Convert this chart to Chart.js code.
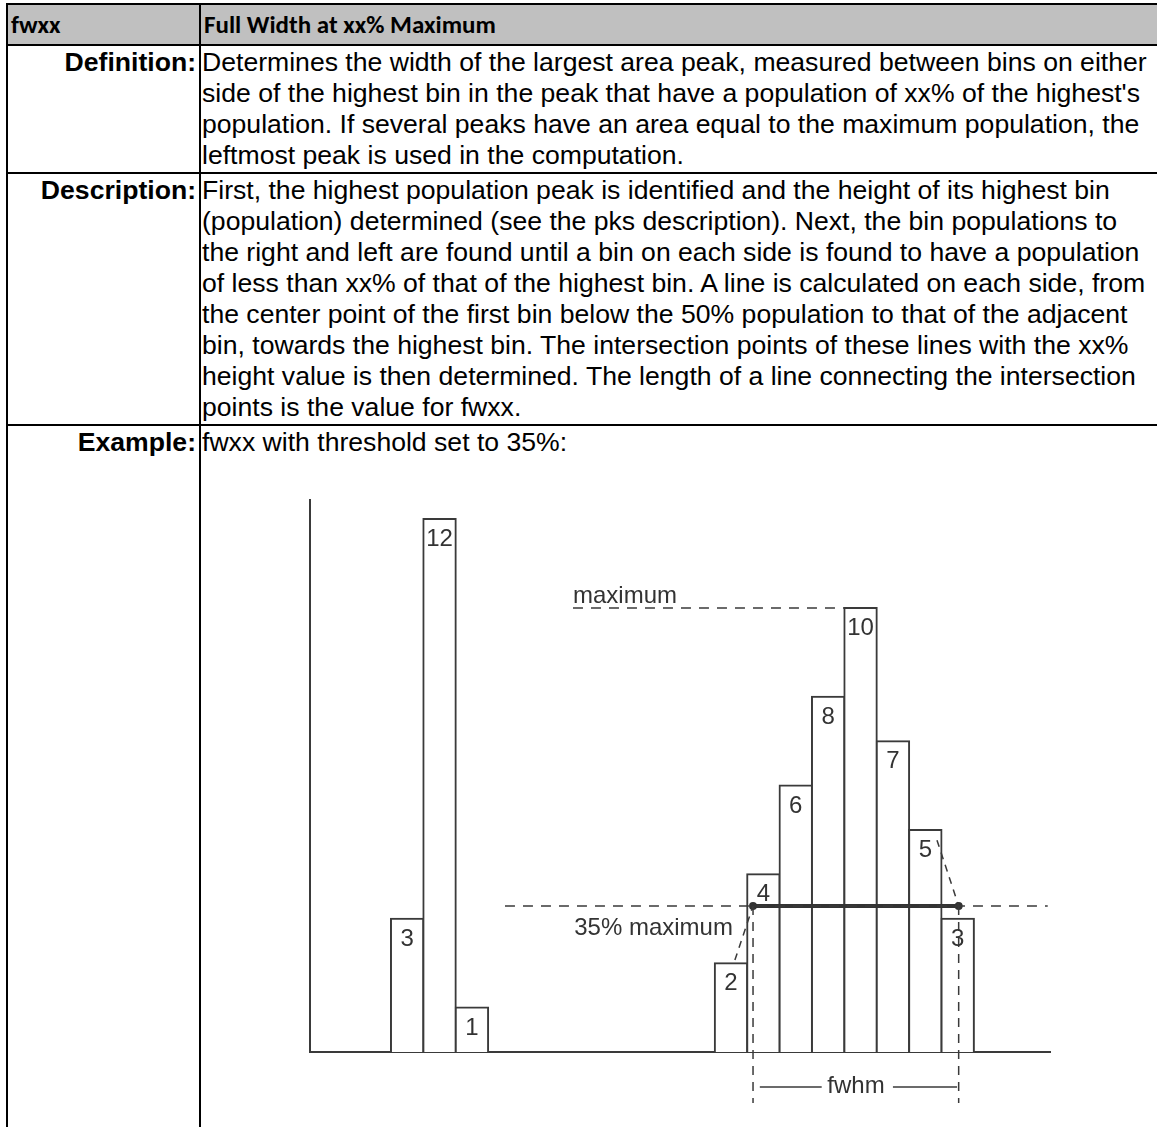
<!DOCTYPE html>
<html>
<head>
<meta charset="utf-8">
<script src="https://cdn.jsdelivr.net/npm/chart.js@4.4.0/dist/chart.umd.min.js"></script>
<style>
  html, body { margin: 0; padding: 0; background: #fff; overflow: hidden; }
  body { width: 1157px; height: 1127px; position: relative; }
  table { position: absolute; left: 6px; top: 3px; border-collapse: collapse; table-layout: fixed; width: 1220px;
          font-family: "Liberation Sans", Arial, sans-serif; font-size: 26.6px; color: #000; }
  th, td { border: 2px solid #000; padding: 0; vertical-align: top; white-space: nowrap; }
  tr.head th { background: #c0c0c0; font-family: Calibri, Carlito, Lato, sans-serif; font-weight: bold;
               font-size: 25px; text-align: left; height: 39px; vertical-align: middle; padding-left: 3px; }
  td { line-height: 31px; padding: 1px 0; }
  td.lbl { font-weight: bold; text-align: right; padding-right: 3px; }
  td.txt { padding-left: 1px; }
  tr.example td { height: 720px; }
  #chartBox { position: absolute; left: 200px; top: 460px; }
</style>
</head>
<body>
<table>
  <colgroup><col style="width:193px"><col></colgroup>
  <tr class="head"><th>fwxx</th><th>Full Width at xx% Maximum</th></tr>
  <tr><td class="lbl">Definition:</td><td class="txt">Determines the width of the largest area peak, measured between bins on either<br>side of the highest bin in the peak that have a population of xx% of the highest's<br>population. If several peaks have an area equal to the maximum population, the<br>leftmost peak is used in the computation.</td></tr>
  <tr><td class="lbl">Description:</td><td class="txt">First, the highest population peak is identified and the height of its highest bin<br>(population) determined (see the pks description). Next, the bin populations to<br>the right and left are found until a bin on each side is found to have a population<br>of less than xx% of that of the highest bin. A line is calculated on each side, from<br>the center point of the first bin below the 50% population to that of the adjacent<br>bin, towards the highest bin. The intersection points of these lines with the xx%<br>height value is then determined. The length of a line connecting the intersection<br>points is the value for fwxx.</td></tr>
  <tr class="example"><td class="lbl">Example:</td><td class="txt">fwxx with threshold set to 35%:</td></tr>
</table>
<div id="chartBox"><canvas id="fwChart" width="957" height="667"></canvas></div>
<script>
// histogram bins (bin number -> population)
const binIndex  = [0, 1, 2, 10, 11, 12, 13, 14, 15, 16, 17];
const binCounts = [3, 12, 1, 2, 4, 6, 8, 10, 7, 5, 3];
const xRange = [-3, 19.85];
const yRange = [0, 12.43];

// guide lines, in bin / population units
const maxLevel = 10;
const maxLineX = [5.12, 13.5];
const thresholdLevel = 3.29;
const thresholdLineX = [3.02, 19.78];
const crossX = [10.68, 17.03];
const leftSlopeX = [10.12, 10.68];
const leftSlopeY = [2.07, 3.29];
const rightSlopeX = [16.36, 17.03];
const rightSlopeY = [4.77, 3.29];
const dropBottom = -1.15;
const fwhmLevel = -0.79;
const fwhmLeftX = [10.89, 12.8];
const fwhmRightX = [15.0, 16.98];

// text notes
const noteText = ['maximum', '35% maximum', 'fwhm'];
const noteX = [5.12, 10.06, 13.86];
const noteY = [10.11, 2.63, -0.92];

const ink = '#3a3a3a';
const pts = (xs, ys) => xs.map((x, i) => ({ x: x, y: ys[i] }));
const flat = (xs, y) => xs.map(x => ({ x: x, y: y }));

function guide(data, dash, width, extra) {
    return Object.assign({
        type: 'line',
        data: data,
        borderColor: ink,
        borderWidth: width,
        borderDash: dash,
        pointRadius: 0,
        fill: false,
        tension: 0,
        order: 1
    }, extra || {});
}

const textPlugin = {
    id: 'textPlugin',
    afterDatasetsDraw(chart) {
        const ctx = chart.ctx;
        const xs = chart.scales.x, ys = chart.scales.y;
        ctx.save();
        ctx.fillStyle = '#333';
        ctx.font = '24px "Liberation Sans", Arial, sans-serif';
        ctx.textBaseline = 'alphabetic';
        ctx.textAlign = 'center';
        chart.getDatasetMeta(0).data.forEach((bar, i) => {
            ctx.fillText(String(binCounts[i]), bar.x, bar.y + 27);
        });
        const aligns = ['left', 'right', 'center'];
        noteText.forEach((t, i) => {
            ctx.textAlign = aligns[i];
            ctx.fillText(t, xs.getPixelForValue(noteX[i]), ys.getPixelForValue(noteY[i]));
        });
        ctx.restore();
    }
};

const ctx = document.getElementById('fwChart').getContext('2d');
new Chart(ctx, {
    type: 'bar',
    data: {
        datasets: [
            {
                type: 'bar',
                data: pts(binIndex, binCounts),
                backgroundColor: '#fff',
                borderColor: ink,
                borderWidth: { top: 2, left: 2, right: 2, bottom: 0 },
                inflateAmount: 1,
                barPercentage: 1,
                categoryPercentage: 1,
                order: 10
            },
            guide(flat(maxLineX, maxLevel), [10, 8], 1.5),
            guide(flat(thresholdLineX, thresholdLevel), [10, 8], 1.5),
            guide(pts(leftSlopeX, leftSlopeY), [7, 6], 1.5),
            guide(pts(rightSlopeX, rightSlopeY), [7, 6], 1.5),
            guide([{ x: crossX[0], y: thresholdLevel }, { x: crossX[0], y: dropBottom }], [9, 7], 1.5, { clip: false }),
            guide([{ x: crossX[1], y: thresholdLevel }, { x: crossX[1], y: dropBottom }], [9, 7], 1.5, { clip: false }),
            guide(flat(fwhmLeftX, fwhmLevel), [], 1.5, { clip: false }),
            guide(flat(fwhmRightX, fwhmLevel), [], 1.5, { clip: false }),
            guide(flat(crossX, thresholdLevel), [], 4, {
                pointRadius: 4, pointBackgroundColor: '#333', pointBorderWidth: 0, borderColor: '#333', clip: false
            })
        ]
    },
    options: {
        responsive: false,
        devicePixelRatio: 1,
        animation: false,
        events: [],
        layout: { padding: { left: 110, right: 107, top: 40, bottom: 75 } },
        plugins: { legend: { display: false }, tooltip: { enabled: false } },
        scales: {
            x: {
                type: 'linear', min: xRange[0], max: xRange[1],
                bounds: 'data', offset: false,
                ticks: { display: false, maxTicksLimit: 6 },
                grid: { display: false, drawTicks: false, offset: false },
                border: { display: true, color: ink, width: 2 }
            },
            y: {
                type: 'linear', min: yRange[0], max: yRange[1],
                bounds: 'data',
                ticks: { display: false },
                grid: { display: false, drawTicks: false },
                border: { display: true, color: ink, width: 2 }
            }
        }
    },
    plugins: [textPlugin]
});
</script>
</body>
</html>
